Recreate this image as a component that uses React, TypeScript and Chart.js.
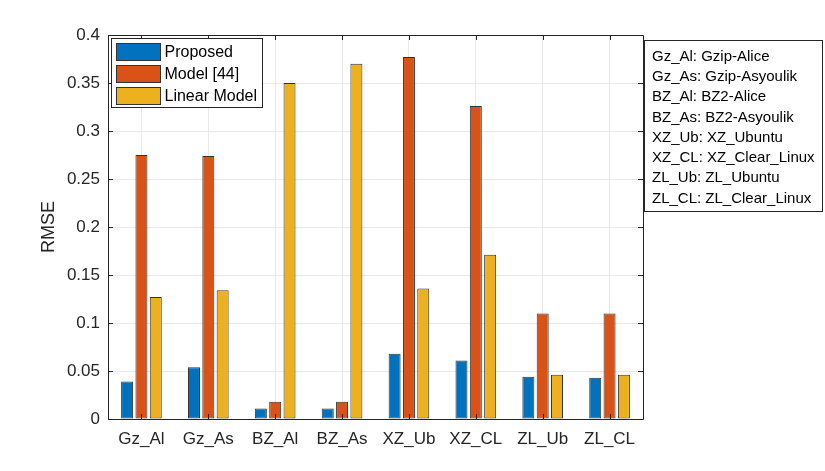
import { useEffect, useRef } from "react";
import { Chart, registerables } from "chart.js";

Chart.register(...registerables);

const categories = ["Gz_Al", "Gz_As", "BZ_Al", "BZ_As", "XZ_Ub", "XZ_CL", "ZL_Ub", "ZL_CL"];
const proposed = [0.039, 0.054, 0.011, 0.011, 0.068, 0.061, 0.044, 0.043];
const model44 = [0.275, 0.274, 0.018, 0.018, 0.377, 0.326, 0.11, 0.11];
const linearModel = [0.127, 0.134, 0.35, 0.37, 0.136, 0.171, 0.046, 0.046];
const seriesNames = ["Proposed", "Model [44]", "Linear Model"];
const seriesColors = ["#0072BD", "#D95319", "#EDB120"];
const yTicks = [0, 0.05, 0.1, 0.15, 0.2, 0.25, 0.3, 0.35, 0.4];
const noteLines = [
	"Gz_Al: Gzip-Alice",
	"Gz_As: Gzip-Asyoulik",
	"BZ_Al: BZ2-Alice",
	"BZ_As: BZ2-Asyoulik",
	"XZ_Ub: XZ_Ubuntu",
	"XZ_CL: XZ_Clear_Linux",
	"ZL_Ub: ZL_Ubuntu",
	"ZL_CL: ZL_Clear_Linux",
];

const FONT = "'Liberation Sans', Arial, Helvetica, sans-serif";
const INK = "#262626";

// draws the matlab style axes box, inward ticks, legend and the note box
const overlayPlugin = {
	id: "overlay",
	afterDraw(chart: any) {
		const ctx = chart.ctx;
		const { left, right, top, bottom } = chart.chartArea;
		const xs = chart.scales.x;
		const ys = chart.scales.y;
		ctx.save();
		ctx.strokeStyle = INK;
		ctx.lineWidth = 1;
		ctx.beginPath();
		ctx.rect(Math.round(left) + 0.5, Math.round(top) + 0.5, Math.round(right - left), Math.round(bottom - top));
		ctx.stroke();

		const tl = 5;
		ctx.beginPath();
		yTicks.forEach((v) => {
			const y = Math.round(ys.getPixelForValue(v)) + 0.5;
			ctx.moveTo(left, y);
			ctx.lineTo(left + tl, y);
			ctx.moveTo(right, y);
			ctx.lineTo(right - tl, y);
		});
		categories.forEach((_, i) => {
			const x = Math.round(xs.getPixelForTick(i)) + 0.5;
			ctx.moveTo(x, bottom);
			ctx.lineTo(x, bottom - tl);
			ctx.moveTo(x, top);
			ctx.lineTo(x, top + tl);
		});
		ctx.stroke();

		// legend
		const lx = left + 3.5;
		const ly = top + 3.5;
		ctx.fillStyle = "#ffffff";
		ctx.fillRect(lx, ly, 151, 69);
		ctx.strokeRect(lx, ly, 151, 69);
		ctx.font = `16px ${FONT}`;
		ctx.textBaseline = "middle";
		seriesNames.forEach((name, i) => {
			const cy = ly + 13 + i * 22;
			ctx.fillStyle = seriesColors[i];
			ctx.fillRect(lx + 5, cy - 8, 44, 17);
			ctx.strokeStyle = "#333333";
			ctx.strokeRect(lx + 5, cy - 8, 44, 17);
			ctx.fillStyle = "#000000";
			ctx.fillText(name, lx + 53, cy + 1);
		});

		// note box
		const nx = 644.5;
		const ny = 40.5;
		ctx.fillStyle = "#ffffff";
		ctx.fillRect(nx, ny, 178, 171);
		ctx.strokeStyle = INK;
		ctx.strokeRect(nx, ny, 178, 171);
		ctx.fillStyle = "#000000";
		ctx.font = `15px ${FONT}`;
		noteLines.forEach((t, i) => {
			ctx.fillText(t, nx + 7.5, ny + 16 + i * 20.3);
		});
		ctx.restore();
	},
};

export default function App() {
	const canvasRef = useRef<HTMLCanvasElement | null>(null);

	useEffect(() => {
		document.body.style.margin = "0";
		if (!canvasRef.current) return;
		const ctx = canvasRef.current.getContext("2d");
		if (!ctx) return;

		const datasets = [proposed, model44, linearModel].map((data, i) => ({
			label: seriesNames[i],
			data,
			backgroundColor: seriesColors[i],
			borderColor: "#333333",
			borderWidth: 1,
			borderSkipped: false as const,
			categoryPercentage: 0.643,
			barPercentage: 0.837,
		}));

		const chart = new Chart(ctx, {
			type: "bar",
			data: { labels: categories, datasets },
			options: {
				responsive: false,
				animation: false,
				layout: { padding: { top: 35, right: 182, left: 0, bottom: 0 } },
				plugins: {
					legend: { display: false },
					tooltip: { enabled: false },
				},
				scales: {
					x: {
						grid: { offset: false, color: "#e8e8e8", drawTicks: false },
						border: { display: false },
						ticks: {
							padding: 10,
							color: INK,
							font: { size: 17, family: FONT },
							maxRotation: 0,
						},
						afterFit: (s: any) => {
							s.height = 52;
						},
					},
					y: {
						min: 0,
						max: 0.4,
						grid: { color: "#e8e8e8", drawTicks: false },
						border: { display: false },
						ticks: {
							stepSize: 0.05,
							padding: 8,
							color: INK,
							font: { size: 17, family: FONT },
							callback: (v: any) => String(parseFloat(Number(v).toFixed(2))),
						},
						title: {
							display: true,
							text: "RMSE",
							color: INK,
							font: { size: 18, family: FONT },
							padding: { top: 38, bottom: 0 },
						},
						afterFit: (s: any) => {
							s.width = 108;
						},
					},
				},
			},
			plugins: [overlayPlugin],
		});

		return () => chart.destroy();
	}, []);

	return (
		<div style={{ width: 825, height: 471, background: "#fff" }}>
			<canvas ref={canvasRef} width={825} height={471} />
		</div>
	);
}
